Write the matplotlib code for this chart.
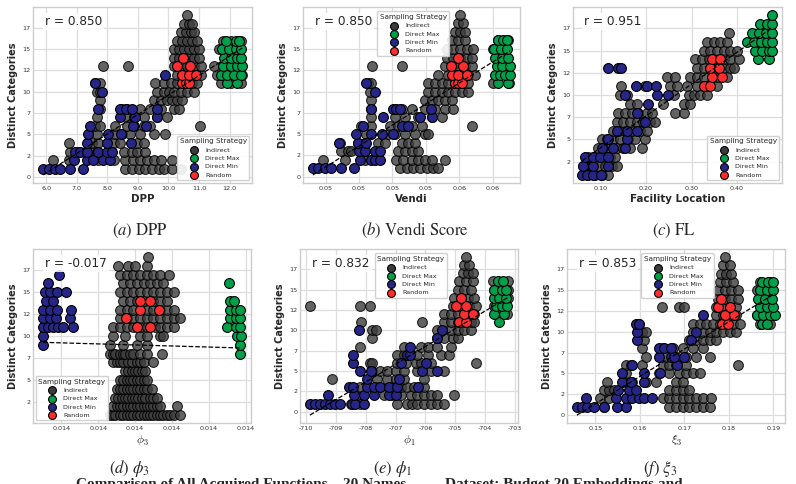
import numpy as np
import matplotlib
matplotlib.use("Agg")
import matplotlib.pyplot as plt
from matplotlib.ticker import MultipleLocator, FormatStrFormatter
import seaborn as sns

sns.set_style("whitegrid")
plt.rcParams["font.family"] = ["DejaVu Sans"]

# ---- data: {distinct categories: [metric values]} per sampling strategy ----
DPP_IND = {
    1: [8.58, 8.80, 9.02, 9.24, 9.46, 9.68, 9.85, 10.12, 10.40],
    2: [6.22, 6.75, 7.70, 8.20, 8.58, 8.84, 9.08, 9.30, 9.52, 9.74, 10.12],
    3: [6.77, 7.04, 7.26, 7.54, 7.65, 8.53, 8.80, 8.97, 9.24],
    4: [6.75, 7.48, 7.70, 8.20, 8.42, 8.97, 9.19],
    5: [7.65, 8.25, 8.47, 8.75, 9.08, 9.52, 9.90],
    6: [7.59, 7.76, 8.25, 8.64, 8.86, 9.19, 9.41, 11.03],
    7: [7.65, 8.64, 8.86, 9.19, 9.63, 9.96],
    8: [7.76, 8.47, 8.64, 9.08, 9.41, 9.74, 10.18, 10.34],
    9: [7.76, 9.52, 9.74, 9.96, 10.12, 10.29, 10.45],
    10: [7.65, 7.76, 9.63, 9.85, 10.01, 10.18, 10.40, 10.62, 10.84],
    11: [7.59, 7.76, 9.57, 9.85, 10.07, 10.29, 10.51, 10.78, 10.95, 11.71, 12.04, 12.37],
    12: [10.29, 10.45, 10.67, 10.89, 11.05, 11.60, 12.41],
    13: [7.87, 8.69, 10.18, 10.40, 10.62, 10.84, 11.05, 11.49],
    14: [10.18, 10.34, 10.51, 10.67, 10.84, 11.00],
    15: [10.18, 10.34, 10.51, 10.67, 10.84, 11.00, 11.66],
    16: [10.29, 10.45, 10.62, 10.78, 10.95, 11.77, 12.04, 12.37],
    17: [10.40, 10.56, 10.73, 10.84],
    18: [10.51, 10.67, 10.78],
    19: [10.62],
}
DPP_MIN = {
    1: [5.89, 6.09, 6.27, 6.44, 6.77, 7.19],
    2: [6.90, 7.34, 7.52, 7.85, 8.09],
    3: [6.93, 7.10, 7.34, 7.70, 7.98, 8.14],
    4: [7.34, 7.98, 8.77],
    5: [7.37, 8.03, 8.44],
    6: [7.43, 8.84, 9.25],
    7: [8.42, 8.91, 9.63],
    8: [7.70, 8.42, 8.62, 8.80, 9.63],
    10: [7.81],
    11: [7.59],
    12: [9.87],
}
DPP_MAX = {
    11: [11.93, 12.24],
    12: [11.71, 11.93, 12.15, 12.37],
    13: [11.77, 12.04, 12.26, 12.40],
    14: [11.82, 12.04, 12.26, 12.38],
    15: [11.74, 11.99, 12.21, 12.38],
    16: [11.88, 12.21, 12.32],
}
DPP_RAND = {11: [10.45, 10.56, 10.67], 12: [10.45, 10.67, 10.89], 13: [10.29, 10.70], 14: [10.47]}

VENDI_IND = {
    1: [0.05244, 0.05284, 0.05324, 0.05364, 0.05404, 0.05444, 0.05474],
    2: [0.04784, 0.04914, 0.05034, 0.05224, 0.05264, 0.05314, 0.05354, 0.05394, 0.05434, 0.05514],
    3: [0.04894, 0.04934, 0.04954, 0.05014, 0.05034, 0.05234, 0.05274, 0.05314, 0.05354],
    4: [0.04884, 0.04994, 0.05034, 0.05114, 0.05154, 0.05254, 0.05294, 0.05334],
    5: [0.05044, 0.05174, 0.05214, 0.05274, 0.05334, 0.05394, 0.05414],
    6: [0.05014, 0.05074, 0.05184, 0.05234, 0.05274, 0.05314, 0.05374, 0.05674],
    7: [0.05074, 0.05214, 0.05274, 0.05354, 0.05434, 0.05494],
    8: [0.05074, 0.05254, 0.05314, 0.05394, 0.05454, 0.05514, 0.05564],
    9: [0.05074, 0.05394, 0.05434, 0.05474, 0.05514, 0.05554],
    10: [0.05064, 0.05414, 0.05454, 0.05494, 0.05534, 0.05574, 0.05614, 0.05654],
    11: [0.05054, 0.05074, 0.05414, 0.05454, 0.05494, 0.05534, 0.05574, 0.05614, 0.05654, 0.05804, 0.05900],
    12: [0.05474, 0.05534, 0.05574, 0.05614, 0.05654, 0.05694, 0.05824],
    13: [0.05078, 0.05254, 0.05514, 0.05554, 0.05594, 0.05634, 0.05674],
    14: [0.05524, 0.05564, 0.05604, 0.05644, 0.05674],
    15: [0.05524, 0.05564, 0.05604, 0.05644, 0.05684, 0.05804],
    16: [0.05554, 0.05594, 0.05634, 0.05834, 0.05894],
    17: [0.05574, 0.05604, 0.05634],
    18: [0.05594, 0.05624],
    19: [0.05604],
}
VENDI_MIN = {
    1: [0.04724, 0.04754, 0.04794, 0.04834, 0.04890, 0.04970],
    2: [0.05004, 0.05074, 0.05094, 0.05124],
    3: [0.04998, 0.05034, 0.05094, 0.05124],
    4: [0.04878, 0.04994, 0.05044],
    5: [0.04984, 0.05070, 0.05138, 0.05204],
    6: [0.05024, 0.05258, 0.05294],
    7: [0.05144, 0.05364, 0.05434],
    8: [0.05070, 0.05204, 0.05224, 0.05244, 0.05428],
    10: [0.05094],
    11: [0.05044],
}
VENDI_MAX = {
    11: [0.05834, 0.05890],
    12: [0.05814, 0.05844, 0.05874, 0.05904],
    13: [0.05824, 0.05858, 0.05904],
    14: [0.05814, 0.05854, 0.05894],
    15: [0.05810, 0.05850, 0.05884],
    16: [0.05834, 0.05864, 0.05884],
}
VENDI_RAND = {11: [0.05574, 0.05594, 0.05614], 12: [0.05554, 0.05594, 0.05644], 13: [0.05548, 0.05624], 14: [0.05590]}

FL_IND = {
    1: [0.0728, 0.0875, 0.1022, 0.1169],
    2: [0.0620, 0.0691, 0.0801, 0.0949, 0.1096, 0.1243, 0.1353],
    3: [0.0728, 0.0875, 0.1022, 0.1206, 0.1316],
    4: [0.0949, 0.1059, 0.1206, 0.1353, 0.1500, 0.1647, 0.1904],
    5: [0.1022, 0.1132, 0.1279, 0.1426, 0.1610, 0.1757, 0.1978],
    6: [0.1279, 0.1390, 0.1537, 0.1684, 0.1868, 0.2015],
    7: [0.1368, 0.1500, 0.1647, 0.1794, 0.1941, 0.2088, 0.2199],
    8: [0.1390, 0.1537, 0.1684, 0.1831, 0.2015, 0.2125, 0.2640, 0.2824],
    9: [0.1647, 0.1794, 0.2382, 0.2824, 0.2971],
    10: [0.1426, 0.1574, 0.2603, 0.2934, 0.3044, 0.3191, 0.3338],
    11: [0.1441, 0.1978, 0.2529, 0.2676, 0.2897, 0.3118, 0.3338, 0.3559],
    12: [0.2456, 0.2640, 0.2971, 0.3118, 0.3265, 0.3559, 0.3779],
    13: [0.3118, 0.3265, 0.3412, 0.3559, 0.3706, 0.3853, 0.3941],
    14: [0.3081, 0.3228, 0.3375, 0.3522, 0.3706, 0.3853, 0.4037],
    15: [0.3265, 0.3412, 0.3559, 0.3706, 0.3853, 0.4000],
    16: [0.3338, 0.3485, 0.3632, 0.3779],
    17: [0.3816],
}
FL_MIN = {
    1: [0.0600, 0.0691, 0.0838, 0.1000],
    2: [0.0620, 0.0838, 0.1169],
    3: [0.0654, 0.0838, 0.0985, 0.1169],
    4: [0.1022, 0.1265, 0.1537],
    5: [0.1169, 0.1574],
    6: [0.1368, 0.1574, 0.1809],
    7: [0.1978],
    8: [0.1809],
    9: [0.2051],
    10: [0.1537, 0.2235, 0.2471],
    11: [0.1779, 0.2015, 0.2221],
    13: [0.1154, 0.1390, 0.1441],
}
FL_MAX = {
    14: [0.4463, 0.4699],
    15: [0.4404, 0.4551, 0.4699, 0.4780],
    16: [0.4228, 0.4375, 0.4522, 0.4669, 0.4780],
    17: [0.4331, 0.4485, 0.4632, 0.4770],
    18: [0.4510, 0.4669, 0.4780],
    19: [0.4780],
}
FL_RAND = {11: [0.3265, 0.3412], 12: [0.3449, 0.3669], 13: [0.3412, 0.3596], 14: [0.3449, 0.3632]}

PHI3_IND = {
    1: [0.013932, 0.013941, 0.013945, 0.013959, 0.013968, 0.013977, 0.013986, 0.013995, 0.014005, 0.014014,
        0.014023, 0.014032, 0.014041, 0.014050, 0.014059, 0.014068, 0.014077, 0.014086, 0.014095, 0.014105, 0.014123],
    2: [0.013941, 0.013950, 0.013959, 0.013968, 0.013977, 0.013986, 0.013995, 0.014005, 0.014014, 0.014023,
        0.014032, 0.014041, 0.014050, 0.014059, 0.014068, 0.014114],
    3: [0.013945, 0.013955, 0.013964, 0.013973, 0.013982, 0.013991, 0.014000, 0.014009, 0.014018, 0.014027,
        0.014041, 0.014050, 0.014059],
    4: [0.013950, 0.013959, 0.013968, 0.013977, 0.013986, 0.013995, 0.014005, 0.014014, 0.014023, 0.014032, 0.014045],
    5: [0.013959, 0.013968, 0.013977, 0.013986, 0.013995, 0.014005, 0.014014, 0.014023, 0.014032],
    6: [0.013973, 0.013982, 0.013991, 0.014000, 0.014009, 0.014018, 0.014027],
    7: [0.013941, 0.013950, 0.013959, 0.013968, 0.013982, 0.013991, 0.014005, 0.014014, 0.014023, 0.014050],
    8: [0.013932, 0.013941, 0.013945, 0.013959, 0.013968, 0.013973, 0.013986, 0.013995, 0.014014, 0.014032, 0.014073],
    9: [0.013932, 0.013968, 0.014005, 0.014032],
    10: [0.013941, 0.013973, 0.014014, 0.014032, 0.014068, 0.014077],
    11: [0.013941, 0.013959, 0.013977, 0.013995, 0.014014, 0.014032, 0.014055, 0.014068, 0.014086, 0.014105],
    12: [0.013959, 0.013977, 0.013995, 0.014014, 0.014032, 0.014050, 0.014068, 0.014086, 0.014105, 0.014123],
    13: [0.013959, 0.013977, 0.013995, 0.014032, 0.014050, 0.014068, 0.014086, 0.014105],
    14: [0.013968, 0.013986, 0.014005, 0.014023, 0.014050, 0.014068, 0.014086],
    15: [0.013959, 0.013977, 0.013995, 0.014014, 0.014032, 0.014050, 0.014068, 0.014086, 0.014105],
    16: [0.013968, 0.013986, 0.014005, 0.014023, 0.014041, 0.014059, 0.014077],
    17: [0.013959, 0.013977, 0.013995, 0.014014, 0.014032, 0.014050, 0.014068, 0.014091],
    18: [0.013955, 0.013982, 0.014000, 0.014032],
    19: [0.014036],
}
PHI3_MIN = {
    9: [0.013750], 10: [0.013750],
    11: [0.013750, 0.013764, 0.013777, 0.013791, 0.013805, 0.013832],
    12: [0.013750, 0.013768, 0.013786, 0.013823],
    13: [0.013750, 0.013768, 0.013788, 0.013825],
    14: [0.013759, 0.013777],
    15: [0.013755, 0.013768, 0.013788, 0.013812],
    16: [0.013764],
    17: [0.013794],
}
PHI3_MAX = {
    8: [0.014286], 9: [0.014286], 10: [0.014277, 0.014288],
    11: [0.014250, 0.014273, 0.014286], 12: [0.014259, 0.014273, 0.014286],
    13: [0.014259, 0.014273, 0.014286], 14: [0.014259, 0.014268], 16: [0.014255],
}
PHI3_RAND = {11: [0.014005, 0.014041], 12: [0.013975], 13: [0.014014, 0.014065], 14: [0.014014, 0.014041]}

PHI1_IND = {
    1: [-708.51, -708.18, -706.94, -706.61, -706.44, -706.27, -706.04, -705.82, -705.60, -705.37],
    2: [-708.29, -707.39, -707.11, -706.83, -706.49, -706.27, -706.04, -705.82, -705.60, -705.03],
    3: [-708.18, -707.62, -707.06, -706.83, -706.61, -706.38, -706.04],
    4: [-709.13, -707.62, -707.28, -707.00, -706.72, -706.04],
    5: [-707.79, -707.51, -707.28, -707.00, -706.72, -706.27, -705.82, -705.37],
    6: [-707.87, -707.79, -706.94, -706.66, -706.33, -706.16, -705.82, -704.30],
    7: [-706.94, -706.72, -706.27, -705.93, -705.48, -705.20],
    8: [-708.18, -706.72, -706.16, -705.93, -705.60, -705.15],
    9: [-707.79, -705.60, -705.37, -705.09, -704.92],
    10: [-707.79, -707.67, -705.60, -705.15, -704.92, -704.70, -704.47],
    11: [-708.15, -706.13, -705.37, -705.15, -704.92, -704.70, -704.47, -704.36],
    12: [-705.37, -705.15, -704.92, -704.58, -704.36, -703.57, -703.26],
    13: [-709.87, -708.18, -707.87, -705.09, -704.87, -704.53, -704.30, -703.69],
    14: [-705.03, -704.81, -704.58, -704.36, -703.23],
    15: [-704.92, -704.70, -704.47, -703.69, -703.24],
    16: [-704.87, -704.64, -704.42, -703.74, -703.24],
    17: [-704.75, -704.58, -704.42],
    18: [-704.70, -704.53],
    19: [-704.64],
}
PHI1_MIN = {
    1: [-709.87, -709.70, -709.53, -709.36, -709.19, -709.02, -708.85, -708.46, -708.35, -708.07],
    2: [-709.25, -708.40, -708.07, -707.73, -707.22, -707.00],
    3: [-708.57, -708.43, -707.96, -707.73, -707.51, -707.22, -706.94, -706.25],
    4: [-707.96, -706.89],
    5: [-708.18, -707.84, -706.10, -705.62],
    6: [-708.43, -706.83, -705.97],
    7: [-708.43, -706.61, -706.53],
    8: [-706.53],
    9: [-705.62],
    10: [-708.24, -705.45],
}
PHI1_MAX = {
    11: [-703.52], 12: [-703.69, -703.37], 13: [-703.63, -703.44, -703.26],
    14: [-703.69, -703.52, -703.29], 15: [-703.71, -703.44, -703.29], 16: [-703.57, -703.40],
}
PHI1_RAND = {11: [-704.87, -704.64], 12: [-704.72, -704.42], 13: [-704.98, -704.64], 14: [-704.81]}

XI3_IND = {
    1: [0.15189, 0.16660, 0.16811, 0.16962, 0.17113, 0.17264, 0.17415, 0.17566],
    2: [0.15113, 0.15302, 0.15755, 0.16510, 0.16660, 0.16811, 0.16962, 0.17113, 0.17264, 0.17415, 0.17604],
    3: [0.15189, 0.15302, 0.15415, 0.15830, 0.16660, 0.16811, 0.16962, 0.17113],
    4: [0.15264, 0.15679, 0.15830, 0.16132, 0.16358, 0.16811, 0.16962],
    5: [0.15679, 0.16434, 0.16660, 0.16887, 0.17038, 0.17189, 0.17340],
    6: [0.15679, 0.15792, 0.16057, 0.16510, 0.16660, 0.16811, 0.17038, 0.18208],
    7: [0.16132, 0.16585, 0.16811, 0.17038, 0.17264, 0.17566],
    8: [0.16057, 0.16510, 0.16736, 0.16962, 0.17189, 0.17415],
    9: [0.16094, 0.17113, 0.17264, 0.17415, 0.17566, 0.17717],
    10: [0.16057, 0.16132, 0.17189, 0.17415, 0.17566, 0.17717, 0.17868, 0.18019, 0.18170],
    11: [0.15981, 0.17189, 0.17340, 0.17491, 0.17642, 0.17792, 0.17943, 0.18094, 0.18245, 0.18698, 0.18925],
    12: [0.17717, 0.17868, 0.18019, 0.18170, 0.18623, 0.19000],
    13: [0.16494, 0.16887, 0.17000, 0.17717, 0.17868, 0.18019, 0.18170],
    14: [0.17755, 0.17906, 0.18057, 0.18208],
    15: [0.17755, 0.17906, 0.18057, 0.18208, 0.18623],
    16: [0.17792, 0.17943, 0.18094, 0.18698, 0.18925],
    17: [0.17830, 0.17943, 0.18057],
    18: [0.17868, 0.18019],
    19: [0.17906],
}
XI3_MIN = {
    1: [0.14585, 0.14698, 0.14811, 0.14962, 0.15189, 0.15491, 0.15679],
    2: [0.14789, 0.15468, 0.15679, 0.15830, 0.15981, 0.16094, 0.16283],
    3: [0.15513, 0.15755, 0.15906],
    4: [0.15604, 0.15792, 0.16094],
    5: [0.15589, 0.16094, 0.16449],
    6: [0.15830, 0.16826],
    7: [0.16419, 0.16698, 0.16774, 0.17000],
    8: [0.16434, 0.16547, 0.16698],
    9: [0.15943, 0.17151],
    10: [0.15943, 0.17264],
    11: [0.15906, 0.15981],
    12: [0.17415],
}
XI3_MAX = {
    11: [0.18736, 0.18864], 12: [0.18623, 0.18774, 0.18925, 0.19038], 13: [0.18698, 0.18849, 0.19000],
    14: [0.18660, 0.18811, 0.18962], 15: [0.18698, 0.18849, 0.19000], 16: [0.18736, 0.18887, 0.19000],
}
XI3_RAND = {11: [0.17853, 0.17981], 12: [0.17906, 0.18110], 13: [0.17755, 0.18019], 14: [0.17830]}

STRATEGIES = ["Indirect", "Direct Max", "Direct Min", "Random"]
COLORS = {"Indirect": "#3c3c3c", "Direct Max": "#00a04b", "Direct Min": "#262688", "Random": "#ff2d2d"}
ALPHAS = {"Indirect": 0.8, "Direct Max": 1.0, "Direct Min": 1.0, "Random": 1.0}

PANELS = [
    dict(data=[DPP_IND, DPP_MAX, DPP_MIN, DPP_RAND], r="r = 0.850", xlabel="DPP", bold=True,
         step=1.0, fmt="%.1f", legend="lower right", caption=r"$\mathit{(a)}$ DPP"),
    dict(data=[VENDI_IND, VENDI_MAX, VENDI_MIN, VENDI_RAND], r="r = 0.850", xlabel="Vendi", bold=True,
         step=0.002, fmt="%.2f", legend="top", caption=r"$\mathit{(b)}$ Vendi Score"),
    dict(data=[FL_IND, FL_MAX, FL_MIN, FL_RAND], r="r = 0.951", xlabel="Facility Location", bold=True,
         step=0.1, fmt="%.2f", legend="lower right", caption=r"$\mathit{(c)}$ FL"),
    dict(data=[PHI3_IND, PHI3_MAX, PHI3_MIN, PHI3_RAND], r="r = -0.017", xlabel=r"$\phi_3$", bold=False,
         step=0.0001, fmt="%.3f", legend="lower left", caption=r"$\mathit{(d)}\ \phi_3$"),
    dict(data=[PHI1_IND, PHI1_MAX, PHI1_MIN, PHI1_RAND], r="r = 0.832", xlabel=r"$\phi_1$", bold=False,
         step=1.0, fmt="%.0f", legend="top", caption=r"$\mathit{(e)}\ \phi_1$"),
    dict(data=[XI3_IND, XI3_MAX, XI3_MIN, XI3_RAND], r="r = 0.853", xlabel=r"$\xi_3$", bold=False,
         step=0.01, fmt="%.2f", legend="top", caption=r"$\mathit{(f)}\ \xi_3$"),
]

# axes boxes in figure fractions (left, bottom, width, height)
BOXES = [
    [0.0415, 0.622, 0.2751, 0.3636], [0.3807, 0.622, 0.2726, 0.3636], [0.7198, 0.622, 0.2626, 0.3636],
    [0.0415, 0.126, 0.2739, 0.3595], [0.3769, 0.126, 0.2739, 0.3595], [0.7123, 0.126, 0.2739, 0.3595],
]
CAPTION_POS = [(0.176, 0.504), (0.521, 0.504), (0.846, 0.504), (0.163, 0.010), (0.494, 0.010), (0.829, 0.010)]


def flatten(rows):
    xs, ys = [], []
    for y, vals in rows.items():
        xs += vals
        ys += [y] * len(vals)
    return np.array(xs, dtype=float), np.array(ys, dtype=float)


fig = plt.figure(figsize=(7.96, 4.84), dpi=100)

for p, box, cap in zip(PANELS, BOXES, CAPTION_POS):
    ax = fig.add_axes(box)
    all_x, all_y = [], []
    for name, rows in zip(STRATEGIES, p["data"]):
        x, y = flatten(rows)
        all_x.append(x)
        all_y.append(y)
        ax.scatter(x, y, s=50, color=COLORS[name], alpha=ALPHAS[name], edgecolor="black",
                   linewidth=0.8, label=name, zorder=3)
    all_x = np.concatenate(all_x)
    all_y = np.concatenate(all_y)
    m, b = np.polyfit(all_x, all_y, 1)
    xx = np.array([all_x.min(), all_x.max()])
    ax.plot(xx, m * xx + b, "--", color="black", lw=0.9, zorder=4)

    ax.xaxis.set_major_locator(MultipleLocator(p["step"]))
    ax.xaxis.set_major_formatter(FormatStrFormatter(p["fmt"]))
    ax.yaxis.set_major_locator(MultipleLocator(2.5))
    ax.yaxis.set_major_formatter(FormatStrFormatter("%d"))
    ax.tick_params(labelsize=4.6, pad=2, length=0, colors="#333333")
    for s in ax.spines.values():
        s.set_color("#cccccc")
        s.set_linewidth(1.0)
    ax.grid(color="#dddddd", lw=0.9)

    if p["bold"]:
        ax.set_xlabel(p["xlabel"], fontsize=7.4, fontweight="bold", labelpad=2)
    else:
        ax.set_xlabel(p["xlabel"], fontsize=8.5, labelpad=2, math_fontfamily="cm")
    ax.set_ylabel("Distinct Categories", fontsize=7, fontweight="bold", labelpad=3)

    ax.text(0.055, 0.915, p["r"], transform=ax.transAxes, fontsize=8.7, va="center", ha="left",
            zorder=6, bbox=dict(facecolor="white", edgecolor="none", alpha=0.85, pad=1.5))

    leg_kw = dict(title="Sampling Strategy", fontsize=4.6, title_fontsize=5.2, markerscale=0.8,
                  frameon=True, framealpha=0.9, edgecolor="#cccccc", borderpad=0.4,
                  labelspacing=0.45, handletextpad=0.8, borderaxespad=0.4)
    if p["legend"] == "top":
        leg = ax.legend(loc="upper left", bbox_to_anchor=(0.33, 0.99), **leg_kw)
    else:
        leg = ax.legend(loc=p["legend"], **leg_kw)
    for h in leg.legend_handles:
        h.set_alpha(1.0)
    leg.set_zorder(7)

    fig.text(cap[0], cap[1], p["caption"], ha="center", va="bottom", fontsize=12,
             family="STIXGeneral", math_fontfamily="stix")

fig.text(0.095, 0.012, "Comparison of All Acquired Functions \u2013 20 Names          Dataset: Budget 20 Embeddings and",
         ha="left", va="top", fontsize=11, fontweight="bold", family="Liberation Serif")

fig.savefig("out.png", dpi=100)
